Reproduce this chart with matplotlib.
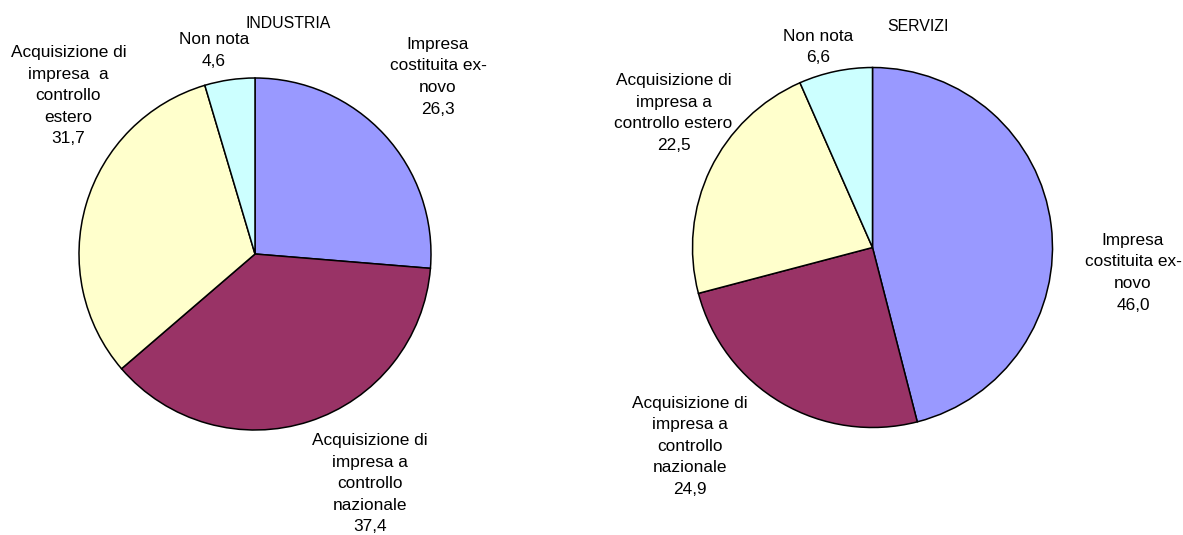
import matplotlib
matplotlib.use("Agg")
import matplotlib.pyplot as plt

# dati (percentuali)
categorie = ["Impresa costituita ex-novo",
             "Acquisizione di impresa a controllo nazionale",
             "Acquisizione di impresa a controllo estero",
             "Non nota"]
industria = [26.3, 37.4, 31.7, 4.6]
servizi = [46.0, 24.9, 22.5, 6.6]

# etichette come compaiono nel grafico (con a capo)
etichette_ind = [["Impresa", "costituita ex-", "novo"],
                 ["Acquisizione di", "impresa a", "controllo", "nazionale"],
                 ["Acquisizione di", "impresa  a", "controllo", "estero"],
                 ["Non nota"]]
etichette_serv = [["Impresa", "costituita ex-", "novo"],
                  ["Acquisizione di", "impresa a", "controllo", "nazionale"],
                  ["Acquisizione di", "impresa a", "controllo estero"],
                  ["Non nota"]]

colori = ["#9999FF", "#993366", "#FFFFCC", "#CCFFFF"]

plt.rcParams['font.family'] = ['Liberation Sans', 'DejaVu Sans']

W, H = 1183, 535
INTERLINEA = 21.5   # px tra le righe

fig = plt.figure(figsize=(W / 100, H / 100), dpi=100)
ax = fig.add_axes([0, 0, 1, 1])
ax.set_xlim(0, W)
ax.set_ylim(0, H)
ax.set_aspect('equal')
ax.axis('off')


def torta(valori, etichette, centro, raggio, pos_etichette, titolo, pos_titolo):
    ax.pie(valori, colors=colori, startangle=90, counterclock=False,
           center=(centro[0], H - centro[1]), radius=raggio,
           wedgeprops=dict(edgecolor='black', linewidth=1.1))
    for v, righe, (x, y) in zip(valori, etichette, pos_etichette):
        righe = righe + [("%.1f" % v).replace(".", ",")]
        for i, r in enumerate(righe):
            ax.text(x, H - (y + i * INTERLINEA), r, ha='center',
                    va='baseline', fontsize=12.4)
    ax.text(pos_titolo[0], H - pos_titolo[1], titolo, ha='center',
            va='baseline', fontsize=11.4)


# posizioni: (x centro, y linea di base della prima riga) in pixel dall'alto
torta(industria, etichette_ind, (255, 254), 176,
      [(438, 49), (370, 445), (68.5, 57), (214, 44.5)],
      "INDUSTRIA", (288, 28))
torta(servizi, etichette_serv, (872.5, 247.5), 180,
      [(1133, 245), (690, 408), (673.5, 85), (818, 41)],
      "SERVIZI", (918, 31))

ax.set_xlim(0, W)
ax.set_ylim(0, H)
fig.savefig("out.png", dpi=100)
